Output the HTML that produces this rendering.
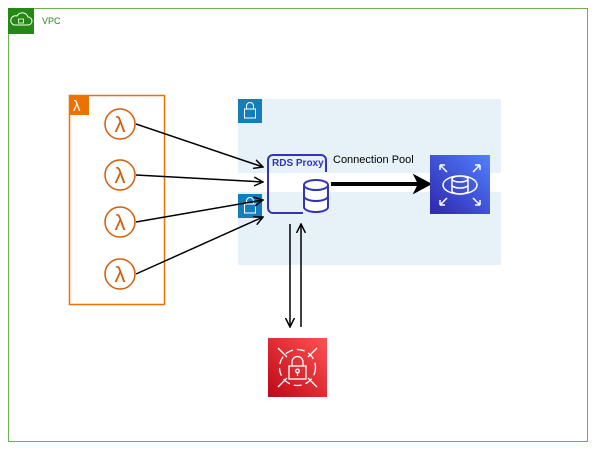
<!DOCTYPE html>
<html><head><style>
body{margin:0;width:600px;height:454px;background:#fff;font-family:"Liberation Sans",sans-serif;position:relative;overflow:hidden}
</style></head><body>
<svg width="600" height="454" viewBox="0 0 600 454" xmlns="http://www.w3.org/2000/svg">
<defs>
<marker id="a" markerWidth="10" markerHeight="10" refX="9" refY="5" orient="auto" markerUnits="userSpaceOnUse"><path d="M0,0.5 L9,5 L0,9.5" fill="none" stroke="#000" stroke-width="1.5"/></marker>
<linearGradient id="rg" x1="0" y1="1" x2="1" y2="0"><stop offset="0" stop-color="#2e27ad"/><stop offset="1" stop-color="#527fff"/></linearGradient>
<linearGradient id="sg" x1="0" y1="1" x2="1" y2="0"><stop offset="0" stop-color="#bd0816"/><stop offset="1" stop-color="#ff5252"/></linearGradient>
</defs>
<rect x="8.5" y="8.5" width="579" height="433" fill="none" stroke="#6cb34f" stroke-width="1"/>
<rect x="8" y="8" width="26" height="26" fill="#248814"/>
<path d="M14,25 h14 a4,4 0 0 0 0,-8 a6,6 0 0 0 -11,-1 a4,4 0 0 0 -3,9z" fill="none" stroke="#fff" stroke-width="1"/>
<rect x="18.5" y="19" width="5" height="4" fill="none" stroke="#fff" stroke-width="0.8"/>
<text x="42" y="24" font-size="9" fill="#248814">VPC</text>

<rect x="238" y="99" width="263" height="74" fill="#e6f2f8"/>
<rect x="238" y="192" width="263" height="73" fill="#e6f2f8"/>
<rect x="238" y="99" width="24" height="24" fill="#147eba"/>
<rect x="244.5" y="109" width="11" height="9" fill="none" stroke="#fff"/><path d="M246.5,109 v-3 a3.5,3.5 0 0 1 7,0 v3" fill="none" stroke="#fff"/>
<rect x="238" y="194" width="24" height="24" fill="#147eba"/>
<rect x="244.5" y="204" width="11" height="9" fill="none" stroke="#fff"/><path d="M246.5,204 v-3 a3.5,3.5 0 0 1 7,0 v3" fill="none" stroke="#fff"/>

<rect x="69.5" y="95.5" width="95" height="209" fill="none" stroke="#ed7100" stroke-width="1.5"/>
<rect x="69" y="95" width="20" height="20" fill="#ed7100"/>
<text x="73" y="111" font-size="15" fill="#fff">λ</text>
<g fill="none" stroke="#d45b07" stroke-width="1.5">
<circle cx="120" cy="124" r="15"/><circle cx="120" cy="175" r="15"/><circle cx="120" cy="222" r="15"/><circle cx="120" cy="274" r="15"/>
</g>
<g font-size="22" fill="#d45b07" text-anchor="middle">
<text x="120" y="132">λ</text><text x="120" y="183">λ</text><text x="120" y="230">λ</text><text x="120" y="282">λ</text>
</g>
<g stroke="#000" stroke-width="1.5" marker-end="url(#a)">
<line x1="136" y1="124" x2="263" y2="167"/>
<line x1="136" y1="175" x2="263" y2="182"/>
<line x1="136" y1="222" x2="263" y2="200"/>
<line x1="136" y1="274" x2="263" y2="217"/>
</g>
<path d="M303,213 H273 a5,5 0 0 1 -5,-5 V160 a5,5 0 0 1 5,-5 H321 a5,5 0 0 1 5,5 V172" fill="none" stroke="#3334b9" stroke-width="2"/>
<text x="272" y="166" font-size="10" font-weight="bold" fill="#3334b9">RDS Proxy</text>
<g fill="#fff" stroke="#3334b9" stroke-width="2">
<path d="M304,185 v22 a12,5 0 0 0 24,0 v-22"/>
<ellipse cx="316" cy="185" rx="12" ry="5"/>
<path d="M304,196 a12,5 0 0 0 24,0" fill="none"/>
</g>
<line x1="331" y1="184" x2="420" y2="184" stroke="#000" stroke-width="4"/>
<path d="M415,176 L430,184 L415,192 L419,184z" fill="#000" stroke="#000" stroke-width="2"/>
<text x="333" y="163" font-size="11" fill="#000">Connection Pool</text>
<rect x="430" y="155" width="60" height="59" fill="url(#rg)"/>
<g fill="none" stroke="#fff" stroke-width="1.5">
<ellipse cx="460" cy="185" rx="17" ry="9"/>
<path d="M452,179 v12 a8,3 0 0 0 16,0 v-12"/><ellipse cx="460" cy="179" rx="8" ry="3" fill="url(#rg)"/>
<path d="M452,185 a8,3 0 0 0 16,0"/>
<path d="M440,165 l7,7 M440,165 h5 M440,165 v5 M480,165 l-7,7 M480,165 h-5 M480,165 v5 M440,205 l7,-7 M440,205 h5 M440,205 v-5 M480,205 l-7,-7 M480,205 h-5 M480,205 v-5"/>
</g>
<g stroke="#000" stroke-width="1.5">
<line x1="290" y1="224" x2="290" y2="327" marker-end="url(#a)"/>
<line x1="301" y1="327" x2="301" y2="224" marker-end="url(#a)"/>
</g>
<rect x="268" y="338" width="59" height="59" fill="url(#sg)"/>
<g fill="none" stroke="#fff" stroke-width="1.3">
<circle cx="297.5" cy="367.5" r="18" stroke-dasharray="8 4"/>
<path d="M278,348 l9,9 M317,348 l-9,9 M278,387 l9,-9 M317,387 l-9,-9"/>
<rect x="289" y="366" width="17" height="13"/>
<path d="M292,366 v-4 a5.5,5.5 0 0 1 11,0 v4"/>
<circle cx="297.5" cy="371" r="1.8"/><line x1="297.5" y1="373" x2="297.5" y2="376"/>
</g>
</svg>
</body></html>
